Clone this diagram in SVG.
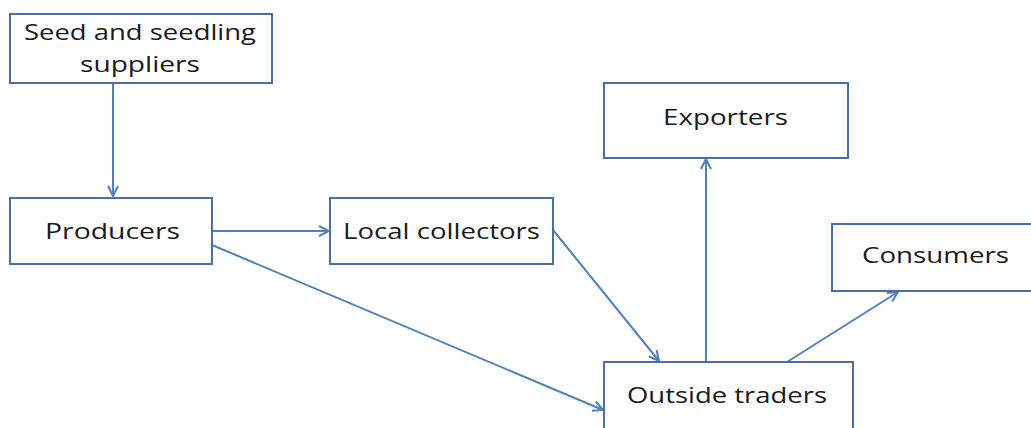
<svg xmlns="http://www.w3.org/2000/svg" width="1031" height="428" viewBox="0 0 1031 428">
<style>
.box{fill:#fff;stroke:#4a6f9f;stroke-width:2}
.lbl{font-family:"Open Sans","Liberation Sans",sans-serif;font-size:22px;fill:#1a1a1a}
.con{stroke:#4f81bd;stroke-width:2;fill:none;marker-end:url(#arr)}
</style>
<defs>
<marker id="arr" viewBox="0 0 12 12" refX="11" refY="6" markerWidth="12" markerHeight="12" markerUnits="userSpaceOnUse" orient="auto">
<path d="M1,1 L11,6 L1,11" fill="none" stroke="#4f81bd" stroke-width="2"/>
</marker>
</defs>
<rect width="1031" height="428" fill="#fff"/>
<g id="connectors">
<line class="con" x1="113" y1="83" x2="113" y2="196"/>
<line class="con" x1="212" y1="231" x2="329" y2="231"/>
<line class="con" x1="212" y1="245" x2="603" y2="410"/>
<line class="con" x1="553" y1="230" x2="659" y2="361"/>
<line class="con" x1="706" y1="362" x2="706" y2="159"/>
<line class="con" x1="787" y1="362" x2="898" y2="292"/>
</g>
<g id="seed">
<rect class="box" x="10" y="14" width="262" height="69"/>
<text class="lbl" x="24" y="40" textLength="232" lengthAdjust="spacingAndGlyphs">Seed and seedling</text>
<text class="lbl" x="80" y="72" textLength="120" lengthAdjust="spacingAndGlyphs">suppliers</text>
</g>
<g id="producers">
<rect class="box" x="10" y="198" width="202" height="66"/>
<text class="lbl" x="45" y="239" textLength="135" lengthAdjust="spacingAndGlyphs">Producers</text>
</g>
<g id="local">
<rect class="box" x="330" y="198" width="223" height="66"/>
<text class="lbl" x="343" y="239" textLength="197" lengthAdjust="spacingAndGlyphs">Local collectors</text>
</g>
<g id="exporters">
<rect class="box" x="604" y="83" width="244" height="75"/>
<text class="lbl" x="663" y="125" textLength="125" lengthAdjust="spacingAndGlyphs">Exporters</text>
</g>
<g id="consumers">
<rect class="box" x="832" y="224" width="200" height="67"/>
<text class="lbl" x="862" y="263" textLength="147" lengthAdjust="spacingAndGlyphs">Consumers</text>
</g>
<g id="outside">
<rect class="box" x="604" y="362" width="249" height="80"/>
<text class="lbl" x="627" y="403" textLength="200" lengthAdjust="spacingAndGlyphs">Outside traders</text>
</g>
</svg>
